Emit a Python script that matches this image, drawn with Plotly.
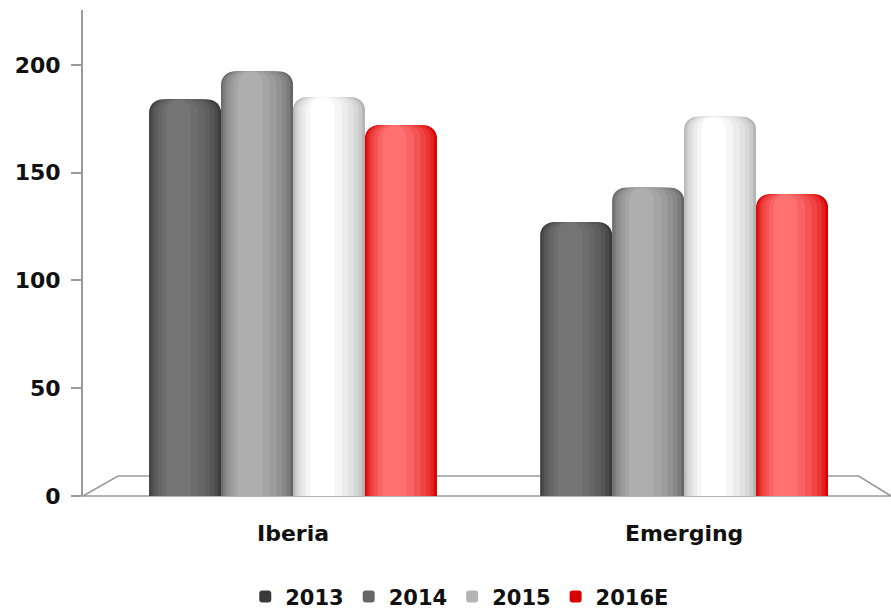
import plotly.graph_objects as go

categories = ["Iberia", "Emerging"]
series_names = ["2013", "2014", "2015", "2016E"]
v2013 = [184, 127]
v2014 = [197, 143]
v2015 = [185, 176]
v2016e = [172, 140]
values = [v2013, v2014, v2015, v2016e]
y_ticks = [0, 50, 100, 150, 200]

# cylinder shading: outer (edge) colour -> inner (highlight) colour
edge_inner = [
    ((0x3a, 0x3a, 0x3a), (0x74, 0x74, 0x74)),
    ((0x66, 0x66, 0x66), (0xae, 0xae, 0xae)),
    ((0xb4, 0xb4, 0xb4), (0xff, 0xff, 0xff)),
    ((0xd8, 0x00, 0x00), (0xff, 0x70, 0x70)),
]
fracs = [1.0, 0.94, 0.86, 0.76, 0.64, 0.5, 0.34]


def mix(a, b, t):
    return "#%02x%02x%02x" % tuple(int(round(a[k] + (b[k] - a[k]) * t)) for k in range(3))


bar_w = 0.184
group_start = -2 * bar_w

font_fam = "'DejaVu Sans', sans-serif"

fig = go.Figure()
for i, (name, vals) in enumerate(zip(series_names, values)):
    center = group_start + (i + 0.5) * bar_w
    a, b = edge_inner[i]
    n = len(fracs)
    for j, f in enumerate(fracs):
        w = bar_w * f
        t = (j / (n - 1)) ** 0.7
        c = center - (1 - f) * bar_w * 0.14
        fig.add_trace(go.Bar(
            x=categories, y=vals, name=name,
            width=w, offset=c - w / 2,
            marker=dict(color=mix(a, b, t), line=dict(width=0)),
            showlegend=(j == 0), legendgroup=name,
            hoverinfo="skip" if j else None,
        ))

fig.update_layout(
    width=891, height=609,
    margin=dict(l=83, r=0, t=10, b=113),
    paper_bgcolor="#ffffff", plot_bgcolor="rgba(0,0,0,0)",
    barmode="overlay", barcornerradius=13,
    showlegend=True,
    legend=dict(orientation="h", xref="container", yref="container",
                x=0.516, xanchor="center", y=0.02, yanchor="middle",
                font=dict(family=font_fam, size=21, color="#111", weight="bold"),
                itemwidth=30, tracegroupgap=0),
    shapes=[dict(type="path", xref="paper", yref="paper",
                 path="M 0,0 L 0.0433,0.041 L 0.96,0.041 L 1,0 Z",
                 line=dict(color="#9a9a9a", width=1.6), layer="below")],
)
fig.update_xaxes(range=[-0.537, 1.529], showline=False, ticks="", showgrid=False,
                 tickfont=dict(family=font_fam, size=22, color="#111", weight="bold"),
                 ticklabelstandoff=22)
fig.update_yaxes(range=[0, 225.5], tickvals=y_ticks, showgrid=False, zeroline=False,
                 showline=True, linecolor="#9a9a9a", linewidth=2,
                 ticks="outside", ticklen=10, tickcolor="#9a9a9a", tickwidth=2,
                 ticklabelstandoff=6,
                 tickfont=dict(family=font_fam, size=22, color="#111", weight="bold"))

fig.write_html("out.html")
